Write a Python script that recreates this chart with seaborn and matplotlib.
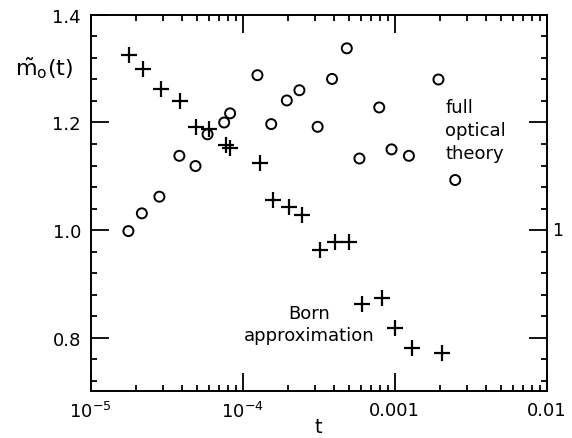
import numpy as np
import pandas as pd
import matplotlib
matplotlib.use("Agg")
import matplotlib.pyplot as plt
import seaborn as sns
from matplotlib.ticker import FixedLocator, NullFormatter, MultipleLocator

# Born approximation (+)
born_t = [1.79e-5, 2.20e-5, 2.90e-5, 3.89e-5, 4.93e-5, 6.04e-5, 7.78e-5, 8.26e-5,
          1.29e-4, 1.58e-4, 2.01e-4, 2.45e-4, 3.24e-4, 4.03e-4, 5.01e-4, 6.08e-4,
          8.24e-4, 1.01e-3, 1.30e-3, 2.05e-3]
born_m = [1.325, 1.300, 1.263, 1.240, 1.192, 1.187, 1.158, 1.153,
          1.124, 1.055, 1.043, 1.028, 0.962, 0.978, 0.978, 0.863,
          0.873, 0.818, 0.781, 0.772]

# full optical theory (o)
full_t = [1.77e-5, 2.17e-5, 2.83e-5, 3.83e-5, 4.89e-5, 5.87e-5, 7.55e-5, 8.26e-5,
          1.25e-4, 1.54e-4, 1.95e-4, 2.36e-4, 3.11e-4, 3.87e-4, 4.84e-4, 5.86e-4,
          7.91e-4, 9.53e-4, 1.24e-3, 1.94e-3, 2.50e-3]
full_m = [0.998, 1.031, 1.062, 1.138, 1.119, 1.178, 1.200, 1.217,
          1.288, 1.197, 1.241, 1.260, 1.192, 1.281, 1.338, 1.133,
          1.228, 1.150, 1.138, 1.280, 1.093]

x_ticks = [1e-5, 1e-4, 1e-3, 1e-2]
x_ticklabels = ["$10^{-5}$", "$10^{-4}$", "0.001", "0.01"]
y_ticks = [0.8, 1.0, 1.2, 1.4]
y_ticklabels = ["0.8", "1.0", "1.2", "1.4"]

sns.set_style("ticks")
plt.rcParams["font.family"] = ["DejaVu Sans"]
plt.rcParams["mathtext.default"] = "regular"
plt.rcParams["text.color"] = "black"
plt.rcParams["axes.labelcolor"] = "black"

fig = plt.figure(figsize=(5.72, 4.39), dpi=100)
ax = fig.add_axes([0.1586, 0.1064, 0.7972, 0.8572])

born_df = pd.DataFrame({"t": born_t, "m": born_m})
full_df = pd.DataFrame({"t": full_t, "m": full_m})

sns.scatterplot(data=born_df, x="t", y="m", marker="+", s=120, color="black",
                linewidth=1.6, ax=ax)
sns.scatterplot(data=full_df, x="t", y="m", marker="o", s=52, facecolors="none",
                edgecolor="black", linewidth=1.4, ax=ax)

ax.set_xscale("log")
ax.set_xlim(1e-5, 1e-2)
ax.set_ylim(0.7, 1.4)

ax.xaxis.set_major_locator(FixedLocator(x_ticks))
ax.set_xticklabels(x_ticklabels)
ax.xaxis.set_minor_locator(FixedLocator(
    [m * 10.0 ** e for e in (-5, -4, -3) for m in range(2, 10)]))
ax.xaxis.set_minor_formatter(NullFormatter())
ax.yaxis.set_major_locator(FixedLocator(y_ticks))
ax.set_yticklabels(y_ticklabels)
ax.yaxis.set_minor_locator(MultipleLocator(0.04))

ax.tick_params(which="both", direction="in", top=True, right=True, width=1.3,
               colors="black", labelsize=13)
ax.tick_params(which="major", length=13, pad=7)
ax.tick_params(which="minor", length=4.5)
for s in ax.spines.values():
    s.set_linewidth(1.4)
    s.set_color("black")

ax.set_xlabel("t", fontsize=14, labelpad=-3)
ax.set_ylabel(r"$\tilde{m}_o(t)$", fontsize=16, rotation=0, va="center")
ax.yaxis.set_label_coords(-0.103, 0.8625)

ax.text(0.778, 0.695, "full\noptical\ntheory", transform=ax.transAxes,
        fontsize=13, ha="left", va="center", linespacing=1.35)
ax.text(0.479, 0.178, "Born\napproximation", transform=ax.transAxes,
        fontsize=13, ha="center", va="center", linespacing=1.3)
fig.text(558 / 572, 1 - 231 / 439, "1", fontsize=12.5, ha="center", va="center")

fig.savefig("out.png", dpi=100)
